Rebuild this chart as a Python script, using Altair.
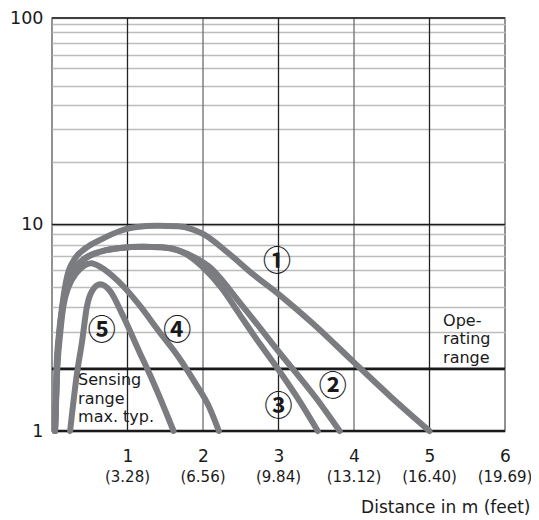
import altair as alt
import pandas as pd

# ---- data ----
curve_ids = ["1", "2", "3", "4", "5"]

c1_x = [0.04, 0.06, 0.09, 0.13, 0.2, 0.3, 0.45, 0.66, 0.9, 1.1, 1.4, 1.67, 1.85, 2.0, 2.33, 2.66, 3.0, 3.44, 4.0, 4.5, 5.0]
c1_y = [1.0, 2.0, 2.9, 3.9, 5.6, 6.8, 7.7, 8.5, 9.3, 9.7, 9.85, 9.8, 9.5, 9.0, 7.3, 5.75, 4.6, 3.35, 2.15, 1.45, 1.0]

c2_x = [0.04, 0.065, 0.1, 0.14, 0.2, 0.3, 0.45, 0.65, 0.9, 1.2, 1.45, 1.67, 1.9, 2.07, 2.5, 3.0, 3.5, 3.81]
c2_y = [1.0, 2.0, 3.0, 4.0, 5.1, 6.1, 6.9, 7.4, 7.7, 7.8, 7.75, 7.5, 6.9, 6.3, 4.13, 2.43, 1.44, 1.0]

c3_x = [0.04, 0.065, 0.1, 0.14, 0.2, 0.3, 0.45, 0.65, 0.9, 1.2, 1.45, 1.67, 1.85, 2.0, 2.25, 2.5, 2.75, 3.0, 3.25, 3.52]
c3_y = [1.0, 2.0, 3.0, 4.0, 5.1, 6.1, 6.9, 7.4, 7.7, 7.8, 7.75, 7.5, 6.9, 6.2, 4.9, 3.6, 2.65, 1.98, 1.45, 1.0]

c4_x = [0.04, 0.07, 0.11, 0.15, 0.22, 0.32, 0.42, 0.52, 0.65, 0.88, 1.15, 1.41, 1.68, 1.9, 2.08, 2.21]
c4_y = [1.0, 2.0, 3.0, 4.0, 5.0, 5.8, 6.3, 6.5, 6.2, 5.3, 4.1, 3.06, 2.27, 1.7, 1.31, 1.0]

c5_x = [0.24, 0.33, 0.4, 0.46, 0.53, 0.64, 0.77, 0.93, 1.15, 1.33, 1.48, 1.61]
c5_y = [1.0, 1.89, 2.74, 3.96, 4.76, 5.13, 4.76, 3.68, 2.45, 1.76, 1.31, 1.0]

circ_labels = ["\u2460", "\u2461", "\u2462", "\u2463", "\u2464"]
circ_x = [2.98, 3.72, 3.0, 1.66, 0.66]
circ_y = [6.5, 1.61, 1.29, 3.0, 3.0]

note_text = [["Sensing", "range", "max. typ."], ["Ope-", "rating", "range"]]
note_x = [0.345, 5.18]
note_y = [1.76, 3.42]

x_ticks = [1, 2, 3, 4, 5, 6]
feet_labels = ["(3.28)", "(6.56)", "(9.84)", "(13.12)", "(16.40)", "(19.69)"]

y_labels = [1, 10, 100]
y_grid = [1, 2, 3, 4, 5, 6, 7, 8, 9, 10, 20, 29, 38, 47, 57, 66, 76, 86, 94, 100]

thick_levels = [1, 2]
thin_levels = [10, 100]
dark_cols = [1, 3, 5]
gray_cols = [2, 4]

# ---- tables ----
rows = []
for cid, xs, ys in zip(curve_ids, [c1_x, c2_x, c3_x, c4_x, c5_x], [c1_y, c2_y, c3_y, c4_y, c5_y]):
    for i, (a, b) in enumerate(zip(xs, ys)):
        rows.append({"curve": cid, "i": i, "dist": a, "val": b})
curves = pd.DataFrame(rows)

circ_df = pd.DataFrame({"lab": circ_labels, "dist": circ_x, "val": circ_y})
note_df = pd.DataFrame({"txt": note_text, "dist": note_x, "val": note_y})
feet_df = pd.DataFrame({"dist": x_ticks, "feet": feet_labels})
thick_df = pd.DataFrame({"val": thick_levels})
thin_df = pd.DataFrame({"val": thin_levels})
dark_df = pd.DataFrame({"dist": dark_cols})
gray_df = pd.DataFrame({"dist": gray_cols})

FONT = "DejaVu Sans"
INK = "#1a1a1a"
CURVE = "#7b7c80"

x_scale = alt.Scale(domain=[0, 6], nice=False, zero=False)
y_scale = alt.Scale(type="log", domain=[1, 100], nice=False)

label_test = "indexof(" + str(y_labels) + ", datum.value) >= 0 ? format(datum.value, 'd') : ''"

x_axis = alt.Axis(
    values=x_ticks, grid=False, ticks=False, tickSize=0, domain=False,
    labelFontSize=17, labelPadding=25, labelBaseline="middle", labelFlush=False,
    labelColor=INK, labelFont=FONT,
    title="Distance in m (feet)", titleFontSize=17, titleFontWeight="normal",
    titleFont=FONT, titleColor=INK, titleAnchor="end", titleAlign="right",
    titleX=478, titleY=81, titleBaseline="alphabetic")
y_axis = alt.Axis(
    values=y_grid, labelExpr=label_test, grid=True, gridColor="#bdbdbd", gridWidth=1.3,
    ticks=False, tickSize=0, domain=False, labelFontSize=17.5, labelPadding=9,
    labelOverlap=False, labelColor=INK, labelFont=FONT, title=None)

X = alt.X("dist:Q", scale=x_scale, axis=x_axis)
Y = alt.Y("val:Q", scale=y_scale, axis=y_axis)

lines = alt.Chart(curves).mark_line(
    color=CURVE, strokeWidth=6, interpolate="monotone", strokeCap="round", strokeJoin="round"
).encode(x=X, y=Y, detail="curve:N", order="i:Q")

thick = alt.Chart(thick_df).mark_rule(color=INK, strokeWidth=2.6).encode(y=Y)
thin = alt.Chart(thin_df).mark_rule(color=INK, strokeWidth=1.4).encode(y=Y)
vdark = alt.Chart(dark_df).mark_rule(color="#222222", strokeWidth=1.3).encode(x=X)
vgray = alt.Chart(gray_df).mark_rule(color="#6e6e6e", strokeWidth=1.3).encode(x=X)

circ = alt.Chart(circ_df).mark_text(fontSize=28, font="Noto Sans CJK JP", fontWeight="bold",
                                    color=INK).encode(x=X, y=Y, text="lab:N")

notes = alt.Chart(note_df).mark_text(fontSize=16, font=FONT, color=INK, align="left",
                                     baseline="middle", lineHeight=18.5).encode(
    x=X, y=Y, text="txt")

feet = alt.Chart(feet_df).mark_text(fontSize=15, font=FONT, color=INK, baseline="middle").encode(
    x=X, y=alt.value(458.7), text="feet:N")

chart = alt.layer(vgray, vdark, thin, thick, lines, circ, notes, feet).properties(
    width=453, height=413,
    autosize=alt.AutoSizeParams(type="none"),
    padding={"left": 44, "top": 10, "right": 26, "bottom": 85},
    background="white",
).configure_view(stroke="#777777", strokeWidth=1.6)

chart.save("out.html", embed_options={"renderer": "svg", "actions": False})
